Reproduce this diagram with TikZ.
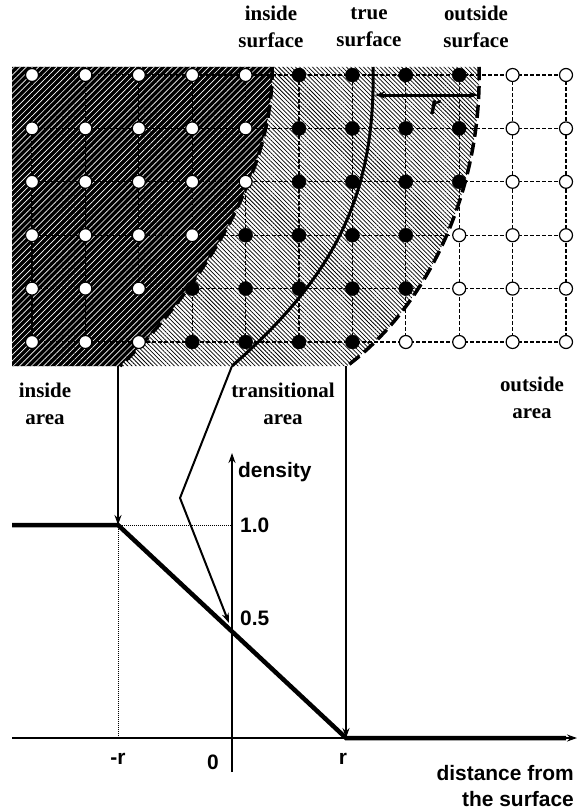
\documentclass[tikz,border=0pt]{standalone}
\usepackage{fontspec}
\setmainfont{Liberation Serif}
\setsansfont{Liberation Sans}
\usepackage{tikz}
\usetikzlibrary{arrows.meta, patterns.meta, calc}

\begin{document}
\begin{tikzpicture}[
  x=1bp, y=-1bp,
  lbl/.style={font=\fontsize{21}{27}\selectfont\bfseries, align=center},
  axlbl/.style={font=\fontsize{21}{27}\selectfont\sffamily\bfseries, inner sep=0pt},
  wdot/.style={circle, draw, fill=white, inner sep=0pt, minimum size=13bp,
               line width=1.2bp},
  bdot/.style={circle, draw, fill=black, inner sep=0pt, minimum size=14bp},
  gridline/.style={line width=1.2bp, dash pattern=on 3.5bp off 2.5bp},
  bound/.style={line width=3.5bp, dash pattern=on 13bp off 6bp},
  conn/.style={->, line width=2bp},
  >={Stealth[length=10bp,width=7bp]}
]
\useasboundingbox (0,0) rectangle (579,811);

\fill[pattern={Lines[angle=-45,distance=3bp,line width=0.75bp]}]
  (12,67) -- (479,67) .. controls (482,180) and (435,300) .. (347,366)
  -- (12,366) -- cycle;
\path[fill=black, postaction={pattern color=white,
      pattern={Lines[angle=45,distance=4.3bp,line width=0.65bp]}}]
  (12,67) -- (272,67) .. controls (275,180) and (190,300) .. (120,366)
  -- (12,366) -- cycle;

\begin{scope}[shift={(32,75)}, x=53.4bp, y=-53.4bp]
  \foreach \j in {0,...,5}
    \draw[gridline] (0,\j) -- (10,\j);
  \foreach \i in {0,...,10}
    \draw[gridline] (\i,0) -- (\i,5);
\end{scope}

\draw[bound] (272,67) .. controls (275,180) and (190,300) .. (120,366);
\draw[bound] (479,67) .. controls (482,180) and (435,300) .. (347,366);
\draw[line width=3bp] (373,67) .. controls (376,200) and (330,280) .. (232,366);

\begin{scope}[shift={(32,75)}, x=53.4bp, y=-53.4bp]
  \foreach \j/\a/\b in {0/5/8, 1/5/8, 2/5/8, 3/4/7, 4/3/7, 5/3/6}
    \foreach \i in {0,...,10} {
      \ifnum\i<\a \def\dotkind{wdot}\else
        \ifnum\i>\b \def\dotkind{wdot}\else \def\dotkind{bdot}\fi\fi
      \node[\dotkind] (d\i-\j) at (\i,\j) {};
    }
\end{scope}

\coordinate (rl) at (375,95);
\coordinate (rr) at (478,95);
\draw[<->, line width=3bp] (rl) -- (rr);
\node[font=\fontsize{26}{30}\selectfont\sffamily\bfseries\itshape] (rlbl)
  at (435,108) {r};

\node[lbl] (insurf) at (271,27) {inside\\surface};
\node[lbl] (truesurf) at (369,27) {true\\surface};
\node[lbl] (outsurf) at (476,27) {outside\\surface};
\node[lbl] (inarea) at (45,404) {inside\\area};
\node[lbl] (transarea) at (283,404) {transitional\\area};
\node[lbl] (outarea) at (532,398) {outside\\area};

\coordinate (ibot) at (118,366);
\coordinate (tbot) at (232,366);
\coordinate (obot) at (346,366);
\coordinate (bend) at (180,498);
\coordinate (one) at (118,525);
\coordinate (half) at (229,623);
\coordinate (rzero) at (346,738);

\draw[line width=2bp, ->] (12,738) -- (577,738);
\draw[line width=2bp, ->] (232,772) -- (232,453);
\draw[densely dotted, line width=1bp] (one) -- (232,525);
\draw[densely dotted, line width=1bp] (one) -- (118,738);
\draw[line width=4.5bp] (12,525) -- (one) -- (rzero) -- (566,738);

\draw[conn] (ibot) -- (one);
\draw[conn] (obot) -- (rzero);
\draw[conn] (tbot) -- (bend) -- (half);

\node[axlbl, anchor=west] (dens) at (238,472) {density};
\node[axlbl, anchor=west] (vone) at (240,525) {1.0};
\node[axlbl, anchor=west] (vhalf) at (240,618) {0.5};
\node[axlbl] (mr) at (118,759) {-r};
\node[axlbl] (zero) at (213,762) {0};
\node[axlbl] (pr) at (343,759) {r};
\node[axlbl, align=right, anchor=east] (dist) at (574,786)
  {distance from\\the surface};
\end{tikzpicture}
\end{document}
